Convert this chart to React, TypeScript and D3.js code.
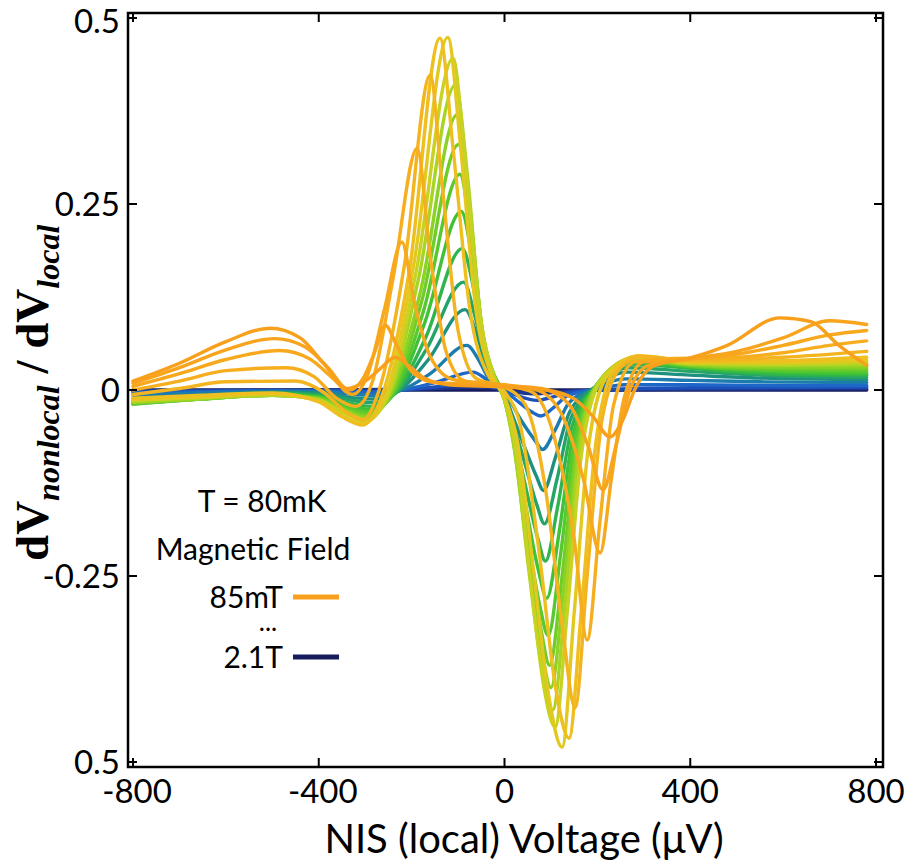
import React, { useEffect, useRef } from "react";
import * as d3 from "d3";

// axis ticks as printed on the figure (bottom label really reads "0.5")
const xTicks = [-800, -400, 0, 400, 800];
const xTickLabels = ["-800", "-400", "0", "400", "800"];
const yTicks = [-0.5, -0.25, 0, 0.25, 0.5];
const yTickLabels = ["0.5", "-0.25", "0", "0.25", "0.5"];

const legendTitle = ["T = 80mK", "Magnetic Field"];
const legendFields = ["85mT", "2.1T"];

// sweeps, low field (85mT) -> high field (2.1T)
// each point: [voltage µV, dV_nonlocal/dV_local]
const sweep00 = [[-800,0.012],[-700,0.036],[-600,0.065],[-505,0.083],[-440,0.07],[-390,0.036],[-339,0.002],[-300,0.012],[-265,0.03],[-236,0.044],[-205,0.032],[-170,0.015],[-120,0.007],[0,0.004],[90,0.0],[150,-0.012],[190,-0.035],[227,-0.063],[255,-0.04],[280,0.0],[320,0.032],[400,0.043],[480,0.06],[593,0.097],[660,0.092],[720,0.06],[780,0.033]];
const sweep01 = [[-800,0.009],[-700,0.03],[-600,0.054],[-495,0.069],[-430,0.058],[-380,0.03],[-335,0.0],[-305,0.015],[-280,0.05],[-257,0.087],[-232,0.06],[-200,0.025],[-150,0.01],[0,0.006],[80,0.002],[140,-0.02],[180,-0.075],[212,-0.134],[240,-0.075],[270,0.0],[310,0.033],[400,0.042],[500,0.052],[600,0.07],[700,0.093],[780,0.088]];
const sweep02 = [[-800,0.005],[-700,0.022],[-600,0.041],[-485,0.053],[-420,0.042],[-370,0.016],[-328,-0.006],[-295,0.02],[-258,0.11],[-221,0.199],[-195,0.12],[-160,0.045],[-110,0.014],[0,0.007],[70,0.0],[125,-0.035],[170,-0.12],[206,-0.219],[230,-0.12],[258,-0.01],[300,0.038],[400,0.042],[500,0.048],[600,0.06],[700,0.074],[780,0.08]];
const sweep03 = [[-800,0.0],[-700,0.012],[-600,0.026],[-470,0.03],[-410,0.018],[-360,-0.012],[-320,-0.022],[-285,0.01],[-240,0.15],[-188,0.325],[-160,0.18],[-125,0.05],[-85,0.012],[0,0.006],[60,-0.003],[110,-0.07],[150,-0.2],[178,-0.336],[205,-0.18],[235,-0.02],[280,0.038],[350,0.042],[500,0.044],[600,0.05],[700,0.06],[780,0.066]];
const sweep04 = [[-800,-0.006],[-700,0.002],[-600,0.011],[-450,0.012],[-390,-0.003],[-340,-0.03],[-305,-0.04],[-270,0.0],[-215,0.17],[-160,0.423],[-135,0.28],[-100,0.08],[-60,0.015],[0,0.004],[45,-0.02],[90,-0.14],[125,-0.32],[152,-0.427],[178,-0.25],[210,-0.04],[250,0.03],[295,0.045],[400,0.04],[500,0.041],[600,0.044],[780,0.052]];
const sweep05 = [[-800,-0.011],[-650,-0.007],[-500,-0.004],[-400,-0.016],[-350,-0.036],[-305,-0.047],[-265,-0.01],[-205,0.16],[-139,0.473],[-110,0.32],[-75,0.11],[-35,0.02],[0,-0.002],[35,-0.05],[75,-0.22],[110,-0.4],[139,-0.468],[165,-0.3],[195,-0.08],[235,0.025],[290,0.046],[400,0.039],[550,0.039],[780,0.044]];
const sweep06 = [[-800,-0.013],[-650,-0.009],[-500,-0.005],[-400,-0.015],[-350,-0.034],[-305,-0.045],[-255,-0.005],[-195,0.17],[-122,0.474],[-95,0.33],[-62,0.11],[-28,0.02],[0,-0.01],[28,-0.07],[62,-0.24],[95,-0.41],[124,-0.48],[150,-0.3],[180,-0.08],[222,0.02],[285,0.045],[400,0.037],[550,0.037],[780,0.04]];
const sweep07 = [[-800,-0.014],[-650,-0.01],[-500,-0.006],[-400,-0.014],[-345,-0.031],[-300,-0.042],[-250,-0.005],[-190,0.16],[-111,0.446],[-85,0.31],[-55,0.11],[-25,0.02],[0,-0.012],[25,-0.08],[55,-0.25],[85,-0.4],[109,-0.453],[135,-0.3],[165,-0.09],[210,0.015],[282,0.044],[400,0.036],[550,0.035],[780,0.037]];
const sweep08 = [[-800,-0.016],[-650,-0.011],[-500,-0.007],[-400,-0.013],[-345,-0.029],[-298,-0.039],[-248,-0.005],[-185,0.15],[-106,0.41],[-80,0.29],[-52,0.1],[-22,0.018],[0,-0.014],[22,-0.08],[52,-0.24],[82,-0.38],[104,-0.43],[130,-0.29],[160,-0.09],[205,0.012],[280,0.043],[400,0.035],[550,0.033],[780,0.034]];
const sweep09 = [[-800,-0.017],[-650,-0.012],[-500,-0.007],[-400,-0.012],[-345,-0.027],[-296,-0.036],[-245,-0.005],[-180,0.135],[-102,0.37],[-77,0.26],[-50,0.09],[-20,0.015],[0,-0.014],[20,-0.075],[50,-0.22],[80,-0.35],[100,-0.4],[127,-0.27],[157,-0.085],[202,0.01],[278,0.042],[400,0.034],[550,0.031],[780,0.031]];
const sweep10 = [[-800,-0.018],[-650,-0.012],[-500,-0.007],[-400,-0.011],[-345,-0.025],[-294,-0.033],[-243,-0.005],[-178,0.12],[-99,0.33],[-74,0.23],[-48,0.08],[-18,0.013],[0,-0.013],[20,-0.07],[48,-0.2],[78,-0.32],[97,-0.37],[124,-0.25],[154,-0.08],[200,0.008],[276,0.041],[400,0.033],[550,0.029],[780,0.028]];
const sweep11 = [[-800,-0.019],[-650,-0.012],[-500,-0.007],[-400,-0.01],[-345,-0.022],[-292,-0.03],[-240,-0.005],[-175,0.105],[-96,0.29],[-71,0.2],[-46,0.07],[-16,0.011],[0,-0.012],[18,-0.06],[46,-0.18],[76,-0.29],[94,-0.33],[121,-0.22],[151,-0.07],[198,0.006],[274,0.04],[400,0.032],[550,0.027],[780,0.025]];
const sweep12 = [[-800,-0.019],[-650,-0.012],[-500,-0.006],[-400,-0.009],[-345,-0.019],[-290,-0.026],[-238,-0.005],[-172,0.09],[-93,0.24],[-68,0.17],[-44,0.06],[-14,0.009],[0,-0.01],[16,-0.05],[44,-0.15],[74,-0.245],[91,-0.28],[118,-0.19],[148,-0.06],[196,0.004],[272,0.038],[400,0.031],[550,0.025],[780,0.022]];
const sweep13 = [[-800,-0.018],[-650,-0.011],[-500,-0.005],[-400,-0.008],[-345,-0.016],[-288,-0.022],[-235,-0.004],[-170,0.07],[-91,0.19],[-66,0.135],[-42,0.05],[-12,0.007],[0,-0.008],[14,-0.04],[42,-0.12],[72,-0.2],[88,-0.23],[115,-0.155],[145,-0.05],[194,0.003],[270,0.035],[400,0.029],[550,0.022],[780,0.02]];
const sweep14 = [[-800,-0.015],[-650,-0.009],[-500,-0.004],[-400,-0.006],[-345,-0.012],[-286,-0.017],[-232,-0.003],[-168,0.055],[-88,0.145],[-64,0.1],[-40,0.038],[-10,0.005],[0,-0.006],[12,-0.03],[40,-0.09],[70,-0.155],[86,-0.18],[113,-0.12],[142,-0.04],[192,0.002],[268,0.03],[400,0.025],[550,0.02],[780,0.017]];
const sweep15 = [[-800,-0.011],[-650,-0.007],[-500,-0.003],[-400,-0.004],[-345,-0.009],[-284,-0.012],[-230,-0.002],[-165,0.04],[-85,0.108],[-60,0.075],[-38,0.028],[-8,0.004],[0,-0.004],[10,-0.022],[38,-0.068],[68,-0.115],[84,-0.135],[110,-0.09],[140,-0.03],[190,0.002],[265,0.024],[400,0.02],[550,0.016],[780,0.014]];
const sweep16 = [[-800,-0.007],[-650,-0.004],[-500,-0.002],[-400,-0.002],[-340,-0.005],[-282,-0.007],[-225,-0.001],[-160,0.022],[-81,0.06],[-57,0.042],[-35,0.016],[0,-0.002],[35,-0.04],[66,-0.068],[82,-0.08],[108,-0.055],[138,-0.018],[190,0.001],[262,0.015],[400,0.013],[550,0.011],[780,0.01]];
const sweep17 = [[-800,-0.004],[-600,-0.002],[-400,-0.001],[-280,-0.003],[-220,0.0],[-150,0.01],[-68,0.024],[-45,0.017],[-25,0.006],[0,-0.001],[30,-0.016],[60,-0.03],[78,-0.035],[105,-0.024],[135,-0.008],[190,0.0],[260,0.007],[400,0.007],[600,0.006],[780,0.006]];
const sweep18 = [[-800,-0.002],[-500,-0.001],[-280,-0.002],[-200,0.001],[-120,0.006],[-60,0.01],[-30,0.005],[0,0.0],[30,-0.008],[70,-0.014],[100,-0.01],[140,-0.003],[200,0.0],[400,0.003],[780,0.004]];
const sweep19 = [[-800,-0.001],[-400,0.0],[-150,0.002],[-50,0.004],[0,0.0],[60,-0.005],[150,-0.001],[400,0.001],[780,0.002]];
const sweep20 = [[-800,0.0],[-400,0.0],[0,0.0],[400,0.0],[780,0.0]];

const sweeps = [
  sweep00, sweep01, sweep02, sweep03, sweep04, sweep05, sweep06,
  sweep07, sweep08, sweep09, sweep10, sweep11, sweep12, sweep13,
  sweep14, sweep15, sweep16, sweep17, sweep18, sweep19, sweep20,
];

const App = () => {
  const svgRef = useRef<SVGSVGElement>(null);

  useEffect(() => {
    const width = 908;
    const height = 865;
    const left = 128, right = 883, top = 13, bottom = 767;

    const svg = d3.select(svgRef.current);
    svg.selectAll("*").remove();
    svg.attr("width", width).attr("height", height);

    const x = d3.scaleLinear().domain([-800, 800]).range([133, 876]);
    const y = d3.scaleLinear().domain([-0.5, 0.5]).range([762, 18]);

    // colour ramp orange -> yellow -> green -> teal -> blue -> navy
    const color = d3
      .scaleLinear<string>()
      .domain([0, 2, 4, 5, 6, 7, 8, 10, 12, 13, 14, 15, 16, 17, 18, 19, 20])
      .range([
        "#f8a01c", "#f7a81d", "#f4b41f", "#eebf1f", "#e3c81f", "#c8d221",
        "#a8d524", "#70cd28", "#40c236", "#30b44e", "#24a468", "#1e9080",
        "#1c7cae", "#1e67c8", "#1d50ba", "#1b3690", "#171c5e",
      ])
      .interpolate(d3.interpolateRgb);

    const line = d3
      .line<number[]>()
      .x((d) => x(d[0]))
      .y((d) => y(d[1]))
      .curve(d3.curveMonotoneX);

    // high field first so the orange low-field sweeps end up on top
    const order = d3.range(sweeps.length).reverse();
    svg
      .append("g")
      .selectAll("path")
      .data(order)
      .join("path")
      .attr("d", (i) => line(sweeps[i]))
      .attr("fill", "none")
      .attr("stroke", (i) => color(i))
      .attr("stroke-width", 3.4)
      .attr("stroke-linejoin", "round")
      .attr("stroke-linecap", "round");

    // frame
    svg
      .append("rect")
      .attr("x", left)
      .attr("y", top)
      .attr("width", right - left)
      .attr("height", bottom - top)
      .attr("fill", "none")
      .attr("stroke", "#000")
      .attr("stroke-width", 2.5);

    const tickLen = 9;
    const ticks = svg.append("g").attr("stroke", "#000").attr("stroke-width", 2);
    xTicks.forEach((v) => {
      ticks.append("line").attr("x1", x(v)).attr("x2", x(v)).attr("y1", bottom).attr("y2", bottom - tickLen);
      ticks.append("line").attr("x1", x(v)).attr("x2", x(v)).attr("y1", top).attr("y2", top + tickLen);
    });
    yTicks.forEach((v) => {
      ticks.append("line").attr("x1", left).attr("x2", left + tickLen).attr("y1", y(v)).attr("y2", y(v));
      ticks.append("line").attr("x1", right).attr("x2", right - tickLen).attr("y1", y(v)).attr("y2", y(v));
    });

    const font = "Lato, 'Open Sans', sans-serif";

    svg
      .append("g")
      .selectAll("text")
      .data(xTicks)
      .join("text")
      .attr("x", (d) => x(d) + (d < 0 ? 4 : 0))
      .attr("y", 803)
      .attr("text-anchor", "middle")
      .attr("font-family", font)
      .attr("font-size", 33)
      .text((d, i) => xTickLabels[i]);

    svg
      .append("g")
      .selectAll("text")
      .data(yTicks)
      .join("text")
      .attr("x", 120)
      .attr("y", (d) => Math.max(y(d), 21))
      .attr("dy", "0.36em")
      .attr("text-anchor", "end")
      .attr("font-family", font)
      .attr("font-size", 33)
      .text((d, i) => yTickLabels[i]);

    svg
      .append("text")
      .attr("x", 524)
      .attr("y", 853)
      .attr("text-anchor", "middle")
      .attr("font-family", font)
      .attr("font-size", 40)
      .text("NIS (local) Voltage (μV)");

    const yl = svg
      .append("text")
      .attr("transform", "translate(48,561) rotate(-90)")
      .attr("font-family", "'Liberation Serif', 'Times New Roman', serif")
      .attr("font-weight", "bold")
      .attr("font-size", 47);
    yl.append("tspan").text("dV");
    yl.append("tspan").attr("font-size", 32).attr("font-style", "italic").attr("dy", 11).text("nonlocal");
    yl.append("tspan").attr("dy", -11).text(" / dV");
    yl.append("tspan").attr("font-size", 32).attr("font-style", "italic").attr("dy", 11).text("local");

    // legend
    const lg = svg.append("g").attr("font-family", font).attr("font-size", 30);
    lg.append("text").attr("x", 262).attr("y", 512).attr("text-anchor", "middle").text(legendTitle[0]);
    lg.append("text").attr("x", 253).attr("y", 560).attr("text-anchor", "middle").text(legendTitle[1]);
    lg.append("text").attr("x", 283).attr("y", 608).attr("text-anchor", "end").text(legendFields[0]);
    lg.append("text").attr("x", 268).attr("y", 631).attr("text-anchor", "middle").attr("font-size", 26).text("...");
    lg.append("text").attr("x", 283).attr("y", 668).attr("text-anchor", "end").text(legendFields[1]);
    lg.append("line").attr("x1", 293).attr("x2", 339).attr("y1", 597).attr("y2", 597)
      .attr("stroke", color(0)).attr("stroke-width", 5);
    lg.append("line").attr("x1", 293).attr("x2", 339).attr("y1", 657).attr("y2", 657)
      .attr("stroke", color(sweeps.length - 1)).attr("stroke-width", 5);
  }, []);

  return (
    <div style={{ position: "absolute", left: 0, top: 0, background: "#fff" }}>
      <svg ref={svgRef} style={{ display: "block" }}></svg>
    </div>
  );
};

export default App;
